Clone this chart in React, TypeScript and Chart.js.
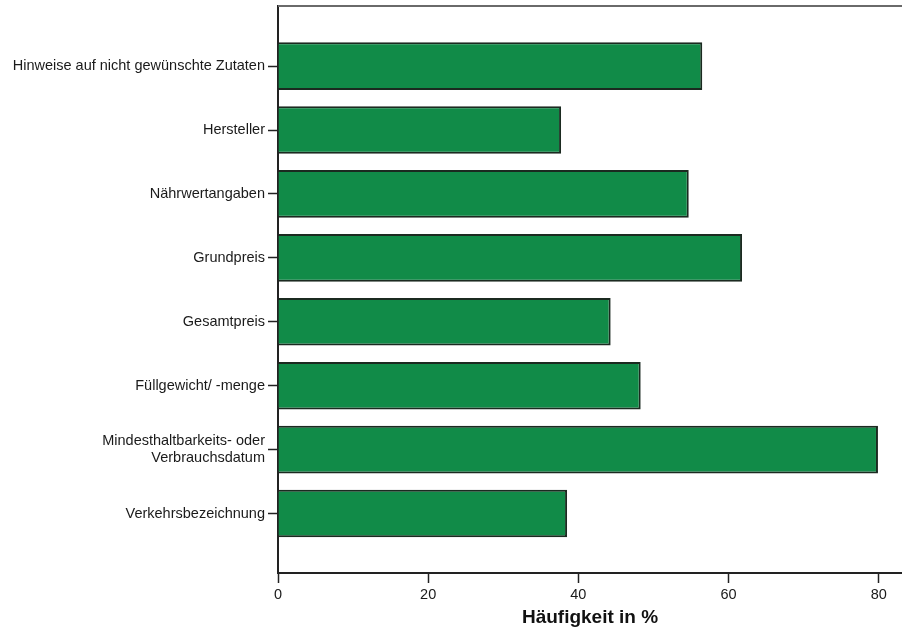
import React, { useEffect, useRef } from "react";
import { Chart, registerables } from "chart.js";

Chart.register(...registerables);

const categories: (string | string[])[] = [
  "Hinweise auf nicht gewünschte Zutaten",
  "Hersteller",
  "Nährwertangaben",
  "Grundpreis",
  "Gesamtpreis",
  "Füllgewicht/ -menge",
  ["Mindesthaltbarkeits- oder", "Verbrauchsdatum"],
  "Verkehrsbezeichnung",
];

const values: number[] = [56.5, 37.7, 54.7, 61.8, 44.3, 48.3, 79.9, 38.5];

const xTicks: number[] = [0, 20, 40, 60, 80];

const axisTitle = "Häufigkeit in %";

const topBorder = {
  id: "topBorder",
  afterDraw(chart: any) {
    const { ctx, chartArea } = chart;
    ctx.save();
    ctx.strokeStyle = "#6a6a6a";
    ctx.lineWidth = 2;
    ctx.beginPath();
    ctx.moveTo(chartArea.left, chartArea.top);
    ctx.lineTo(chartArea.right, chartArea.top);
    ctx.stroke();
    ctx.restore();
  },
};

export default function App() {
  const ref = useRef<HTMLCanvasElement | null>(null);

  useEffect(() => {
    if (!ref.current) return;
    const font = { family: "'Liberation Sans', Arial, sans-serif", size: 14.5 };
    const chart = new Chart(ref.current, {
      type: "bar",
      data: {
        datasets: [
          {
            data: values.map((v, i) => ({ x: v, y: i })),
            backgroundColor: "#118b48",
            borderColor: "#1b2a20",
            borderWidth: 2,
            barPercentage: 0.745,
            categoryPercentage: 1,
          },
        ],
      },
      options: {
        indexAxis: "y",
        animation: false,
        responsive: false,
        layout: { padding: { top: 6, right: 0, left: 0, bottom: 0 } },
        plugins: { legend: { display: false }, tooltip: { enabled: false } },
        scales: {
          x: {
            type: "linear",
            min: 0,
            max: 83.1,
            afterBuildTicks: (s: any) => {
              s.ticks = xTicks.map((v) => ({ value: v }));
            },
            afterFit: (s: any) => {
              s.height = 59;
            },
            grid: {
              drawOnChartArea: false,
              drawTicks: true,
              tickLength: 10,
              tickColor: "#222",
              tickWidth: 1.5,
            },
            border: { display: true, color: "#222", width: 2 },
            ticks: { font, color: "#1a1a1a", padding: 3, maxRotation: 0 },
            title: {
              display: true,
              text: axisTitle,
              color: "#111",
              font: { family: "'Liberation Sans', Arial, sans-serif", size: 19, weight: "bold" },
              padding: { top: 0, bottom: 3 },
            },
          },
          y: {
            type: "linear",
            reverse: true,
            offset: false,
            min: -0.94,
            max: 7.93,
            afterBuildTicks: (s: any) => {
              s.ticks = categories.map((_, i) => ({ value: i }));
            },
            afterFit: (s: any) => {
              s.width = 278;
              s.paddingTop = 0;
              s.paddingBottom = 0;
            },
            grid: {
              offset: false,
              drawOnChartArea: false,
              drawTicks: true,
              tickLength: 10,
              tickColor: "#222",
              tickWidth: 1.5,
            },
            border: { display: true, color: "#222", width: 2 },
            ticks: {
              font,
              color: "#1a1a1a",
              padding: 3,
              callback: (v: any) => categories[Number(v)] as any,
            },
          },
        },
      },
      plugins: [topBorder],
    } as any);
    return () => chart.destroy();
  }, []);

  return (
    <div style={{ position: "absolute", left: 0, top: 0, width: 902, height: 632, background: "#fff" }}>
      <canvas ref={ref} width={902} height={632} style={{ display: "block" }} />
    </div>
  );
}
